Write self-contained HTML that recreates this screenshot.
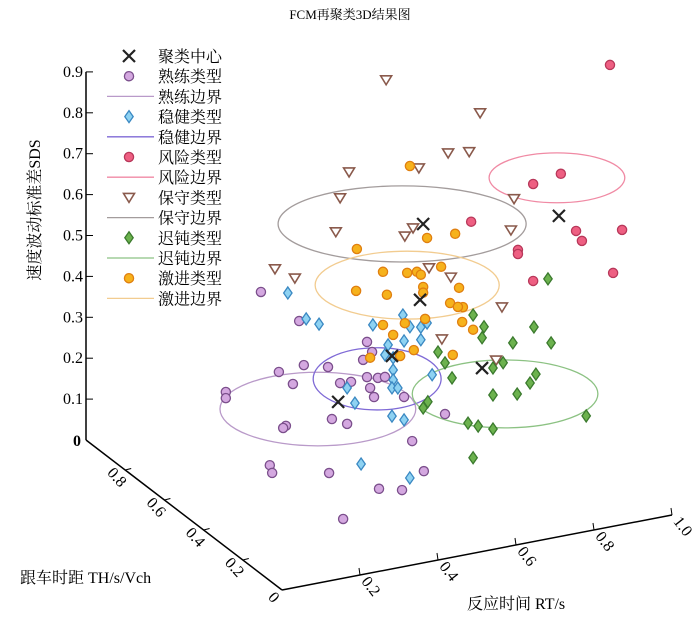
<!DOCTYPE html>
<html><head><meta charset="utf-8"><style>
body{margin:0;background:#fff;}
svg{display:block;font-family:"Liberation Serif","Noto Serif CJK SC",serif;}
</style></head><body>
<svg id="chart" width="700" height="618" viewBox="0 0 700 618" xmlns="http://www.w3.org/2000/svg">
<text x="350" y="19" text-anchor="middle" font-size="13">FCM再聚类3D结果图</text>
<g id="axes"></g>
<g id="ellipses"></g>
<g id="points"></g>
<g id="legend"></g>
</svg>
<script>
// ---- data: [rt, th, sds] ----
const skilled = [[.147,.4,.555],[.245,.4,.466],[.419,.4,.383],[.432,.4,.356],[.409,.4,.341],[.193,.4,.351],[.257,.4,.356],[.319,.4,.340],[.419,.4,.297],[.447,.4,.290],[.465,.4,.289],[.057,.4,.327],[.057,.4,.312],[.229,.4,.315],[.350,.4,.295],[.378,.4,.293],[.427,.4,.269],[.437,.4,.245],[.514,.4,.231],[.619,.4,.170],[.329,.4,.211],[.368,.4,.192],[.211,.4,.216],[.204,.4,.212],[.384,.1,.257],[.019,.1,.265],[.025,.1,.245],[.171,.1,.218],[.414,.1,.178],[.299,.1,.156],[.358,.1,.142],[.207,.1,.099]];
const steady = [[.216,.4,.540],[.263,.4,.468],[.296,.4,.449],[.434,.4,.422],[.511,.4,.432],[.529,.4,.400],[.557,.4,.394],[.573,.4,.401],[.514,.4,.368],[.557,.4,.363],[.473,.4,.366],[.465,.4,.343],[.486,.4,.332],[.486,.4,.302],[.486,.4,.278],[.483,.4,.259],[.498,.4,.256],[.368,.4,.280],[.388,.4,.239],[.586,.4,.272],[.483,.4,.190],[.514,.4,.175],[.253,.1,.225],[.378,.1,.168]];
const risky = [[1.042,.4,.946],[.916,.4,.703],[.845,.4,.691],[.686,.4,.628],[.955,.4,.556],[.970,.4,.529],[1.073,.4,.537],[.806,.4,.537],[.806,.4,.527],[.845,.4,.454],[1.050,.4,.436]];
const conservative = [[.468,.4,1.015],[.709,.4,.890],[.627,.4,.807],[.681,.4,.800],[.552,.4,.784],[.373,.4,.807],[.350,.4,.748],[.796,.4,.664],[.339,.4,.667],[.788,.4,.589],[.537,.4,.640],[.516,.4,.624],[.183,.4,.605],[.234,.4,.573],[.578,.4,.535],[.634,.4,.502],[.765,.4,.405],[.611,.4,.355],[.750,.4,.278]];
const sluggish = [[.883,.4,.452],[.691,.4,.399],[.719,.4,.365],[.714,.4,.339],[.847,.4,.341],[.793,.4,.312],[.891,.4,.294],[.601,.4,.325],[.619,.4,.295],[.742,.4,.260],[.768,.4,.268],[.637,.4,.255],[.852,.4,.225],[.837,.4,.206],[.742,.4,.194],[.804,.4,.185],[.575,.4,.208],[.563,.4,.195],[.981,.4,.099],[.678,.4,.137],[.704,.4,.125],[.742,.4,.111],[.691,.4,.050]];
const aggressive = [[.529,.4,.793],[.393,.4,.615],[.573,.4,.609],[.645,.4,.606],[.460,.4,.547],[.522,.4,.533],[.547,.4,.531],[.557,.4,.522],[.609,.4,.532],[.391,.4,.513],[.470,.4,.489],[.563,.4,.491],[.563,.4,.477],[.655,.4,.472],[.632,.4,.439],[.665,.4,.423],[.652,.4,.426],[.663,.4,.387],[.691,.4,.363],[.460,.4,.417],[.516,.4,.411],[.568,.4,.412],[.486,.4,.388],[.539,.4,.341],[.639,.4,.311],[.427,.4,.343],[.504,.4,.333]];
const centers = [[.563,.4,.645],[.911,.4,.601],[.555,.4,.461],[.345,.4,.250],[.714,.4,.265],[.483,.4,.337]];
// boundary ellipses: center rt, th, sds and semi-axes (rt units, sds units)
const ellipseCenters = [[.293,.4,.242],[.445,.4,.288],[.906,.4,.695],[.509,.4,.655],[.773,.4,.191],[.522,.4,.503]];
const ellipseAxes = [[.251,.090],[.164,.076],[.174,.061],[.318,.093],[.238,.083],[.236,.083]];
const zTicks = [0.1,0.2,0.3,0.4,0.5,0.6,0.7,0.8,0.9];
const thTicks = [0,0.2,0.4,0.6,0.8];
const rtTicks = [0.2,0.4,0.6,0.8,1.0];

// ---- projection ----
const O = {x:282,y:590};
const RT = {x:390,y:-75}, TH = {x:-196,y:-150}, ZS = 409;
function px(rt,th,z){return O.x+RT.x*rt+TH.x*th;}
function py(rt,th,z){return O.y+RT.y*rt+TH.y*th-ZS*z;}

const NS="http://www.w3.org/2000/svg";
function mk(tag,attrs,parent){const e=document.createElementNS(NS,tag);for(const k in attrs)e.setAttribute(k,attrs[k]);parent.appendChild(e);return e;}

// ---- axes ----
const ax=document.getElementById('axes');
const zx=px(0,1,0), zy0=py(0,1,0);
let l=mk('line',{x1:zx,y1:zy0,x2:zx,y2:py(0,1,0.9),stroke:'#000','stroke-width':1.5},ax);


zTicks.forEach(v=>{
  const y=py(0,1,v);
  let t=mk('line',{x1:zx,y1:y,x2:zx+7,y2:y,stroke:'#000','stroke-width':1},ax);
  
  
  let tx=mk('text',{x:zx-3,y:y+5,'text-anchor':'end','font-size':16},ax);
  tx.textContent=v.toFixed(1);
  
  
});
let z0=mk('text',{x:zx-5,y:zy0+6,'text-anchor':'end','font-size':16,'font-weight':'bold'},ax);z0.textContent='0';


l=mk('line',{x1:px(0,1,0),y1:py(0,1,0),x2:px(0,0,0),y2:py(0,0,0),stroke:'#000','stroke-width':1.5},ax);


thTicks.forEach(v=>{
  const x=px(0,v,0),y=py(0,v,0);
  if(v>0){let t=mk('line',{x1:x,y1:y,x2:x+6,y2:y-1.5,stroke:'#000'},ax);
  
  }
  let tx=mk('text',{x:x-9,y:y+12,'text-anchor':'middle','font-size':16,transform:`rotate(48 ${x-9} ${y+8})`},ax);
  tx.textContent=v===0?'0':v.toFixed(1);
  
  
});
l=mk('line',{x1:px(0,0,0),y1:py(0,0,0),x2:px(1,0,0),y2:py(1,0,0),stroke:'#000','stroke-width':1.5},ax);


rtTicks.forEach(v=>{
  const x=px(v,0,0),y=py(v,0,0);
  let t=mk('line',{x1:x,y1:y,x2:x-1,y2:y-7,stroke:'#000'},ax);
  
  
  let tx=mk('text',{x:x+10,y:y+16,'text-anchor':'middle','font-size':16,transform:`rotate(52 ${x+10} ${y+12})`},ax);
  tx.textContent=v.toFixed(1);
  
  
});
let lab=mk('text',{x:40,y:210,'text-anchor':'middle','font-size':16,transform:'rotate(-90 40 210)'},ax);lab.textContent='速度波动标准差SDS';


lab=mk('text',{x:20,y:583,'font-size':16},ax);lab.textContent='跟车时距 TH/s/Vch';


lab=mk('text',{x:467,y:609,'font-size':16},ax);lab.textContent='反应时间 RT/s';



// ---- ellipses ----
const ellColors=['#b99ac9','#7f6ad6','#f08aa4','#a39c9c','#8cc283','#f2cc90'];
const ellNames=['skilled-boundary','steady-boundary','risky-boundary','conservative-boundary','sluggish-boundary','aggressive-boundary'];
const eg=document.getElementById('ellipses');
ellipseCenters.forEach((c,i)=>{
  const e=mk('ellipse',{cx:px(c[0],c[1],c[2]),cy:py(c[0],c[1],c[2]),rx:ellipseAxes[i][0]*RT.x,ry:ellipseAxes[i][1]*ZS,fill:'none',stroke:ellColors[i],'stroke-width':1.3},eg);
  
  
});

// ---- markers ----
const pg=document.getElementById('points');
function circle(g,x,y,fill,stroke){return mk('circle',{cx:x,cy:y,r:4.6,fill:fill,stroke:stroke,'stroke-width':1.3},g);}
function diamond(g,x,y,fill,stroke){return mk('path',{d:`M${x} ${y-6}L${x+4.2} ${y}L${x} ${y+6}L${x-4.2} ${y}Z`,fill:fill,stroke:stroke,'stroke-width':1.3},g);}
function tri(g,x,y,fill,stroke){return mk('path',{d:`M${x-5.5} ${y-4}L${x+5.5} ${y-4}L${x} ${y+5}Z`,fill:fill,stroke:stroke,'stroke-width':1.6},g);}
function cross(g,x,y){return mk('path',{d:`M${x-6} ${y-6}L${x+6} ${y+6}M${x+6} ${y-6}L${x-6} ${y+6}`,stroke:'#222','stroke-width':2.2,fill:'none'},g);}
const series=[
 {d:skilled,f:circle,fill:'#d4a8e0',stroke:'#7b4f8c',name:'skilled-point'},
 {d:conservative,f:tri,fill:'#fff',stroke:'#8a5a4c',name:'conservative-point'},
 {d:risky,f:circle,fill:'#ee5f82',stroke:'#b8385a',name:'risky-point'},
 {d:sluggish,f:diamond,fill:'#6cb24e',stroke:'#3b7a2e',name:'sluggish-point'},
 {d:steady,f:diamond,fill:'#8ed2f2',stroke:'#3a88c2',name:'steady-point'},
 {d:aggressive,f:circle,fill:'#f6b21c',stroke:'#e07f10',name:'aggressive-point'}
];
series.forEach(s=>{
  s.d.forEach(p=>{
    const el=s.f(pg,px(p[0],p[1],p[2]),py(p[0],p[1],p[2]),s.fill,s.stroke);
    
    
  });
});
centers.forEach(p=>{
  const el=cross(pg,px(p[0],p[1],p[2]),py(p[0],p[1],p[2]));
  
  
});

// ---- legend ----
const lg=document.getElementById('legend');
const items=[
 ['聚类中心','x'],['熟练类型','m',0],['熟练边界','l',0],['稳健类型','m',4],['稳健边界','l',1],
 ['风险类型','m',2],['风险边界','l',2],['保守类型','m',1],['保守边界','l',3],
 ['迟钝类型','m',3],['迟钝边界','l',4],['激进类型','m',5],['激进边界','l',5]];
items.forEach((it,i)=>{
  const y=56+i*20.2;
  const g=mk('g',{},lg);
  
  
  if(it[1]==='x') cross(g,129,y);
  else if(it[1]==='m'){const s=series[it[2]];s.f(g,129,y,s.fill,s.stroke);}
  else mk('line',{x1:107,y1:y,x2:154,y2:y,stroke:ellColors[it[2]],'stroke-width':1.3},g);
  const t=mk('text',{x:158,y:y+6,'font-size':16},g);t.textContent=it[0];
});
</script>
</body></html>
